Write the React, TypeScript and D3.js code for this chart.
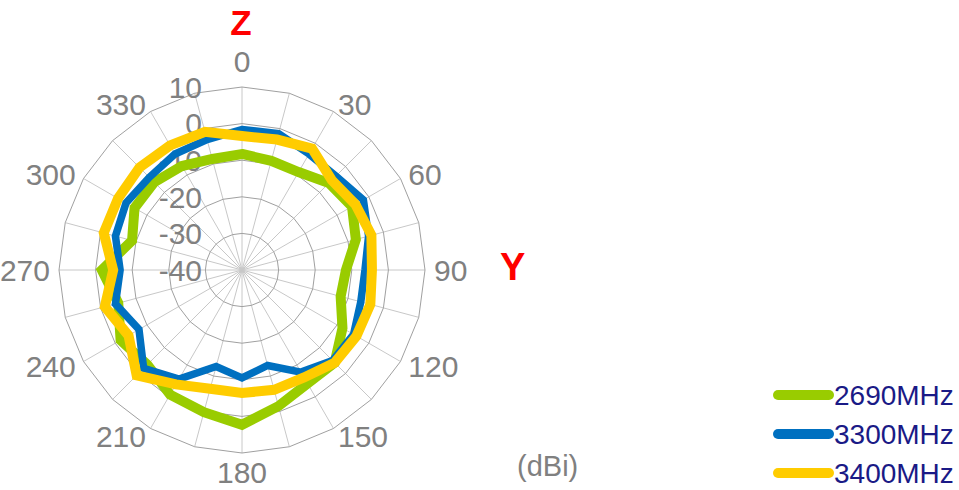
import React, {useEffect, useRef} from "react";
import * as d3 from "d3";

// angle categories (degrees, clockwise from top)
const angles = [0, 15, 30, 45, 60, 75, 90, 105, 120, 135, 150, 165, 180, 195, 210, 225, 240, 255, 270, 285, 300, 315, 330, 345];
const angleLabels = [0, 30, 60, 90, 120, 150, 180, 210, 240, 270, 300, 330];
const radialTicks = [-40, -30, -20, -10, 0, 10];

// gain in dBi
const gain2690 = [-8.3, -9.1, -9.1, -6.4, -5.3, -7.8, -11.6, -12.1, -8.3, -4.2, -4.2, -1.5, 2.3, 0.2, -0.7, -3.4, -1.7, -5.0, -1.7, -8.9, -6.1, -6.1, -7.2, -8.6];
const gain3300 = [-1.6, -1.4, -3.4, -3.7, -1.7, -4.2, -6.4, -6.4, -4.8, -5.0, -7.8, -13.0, -10.5, -12.7, -5.6, -2.0, -7.5, -4.2, -6.7, -4.2, -3.4, -4.2, -3.4, -3.1];
const gain3400 = [-3.4, -3.1, -1.7, -5.3, -4.2, -3.4, -4.5, -3.7, -3.9, -4.2, -6.1, -6.1, -6.4, -6.4, -3.9, 0.7, -4.2, -1.2, -4.8, -0.9, -0.9, -0.4, -0.7, -0.9];

const seriesNames = ["2690MHz", "3300MHz", "3400MHz"];
const seriesColors = ["#99cc00", "#0070c0", "#ffcc00"];
const seriesWidths = [10, 7.5, 10];

const FONT = "'Liberation Sans', Arial, sans-serif";

const App: React.FC = () => {
    const svgRef = useRef<SVGSVGElement | null>(null);

    useEffect(() => {
        if (!svgRef.current) return;
        const svg = d3.select(svgRef.current);
        svg.selectAll("*").remove();

        const cx = 242;
        const cy = 270;
        const R = 183;
        const fs = 30;

        const r = d3.scaleLinear().domain([-40, 10]).range([0, R]);
        const a = d3.scaleLinear().domain([0, 360]).range([0, 2 * Math.PI]);

        const g = svg.append("g").attr("transform", `translate(${cx},${cy})`);

        // spokes
        g.selectAll(".spoke")
            .data(angles)
            .join("line")
            .attr("x1", 0)
            .attr("y1", 0)
            .attr("x2", (d) => R * Math.sin(a(d)))
            .attr("y2", (d) => -R * Math.cos(a(d)))
            .attr("stroke", "#c8c8c8")
            .attr("stroke-width", 1);

        // rings
        const ring = d3.lineRadial<number>()
            .angle((d) => a(d))
            .curve(d3.curveLinearClosed);
        g.selectAll(".ring")
            .data(radialTicks.slice(1))
            .join("path")
            .attr("d", (t) => ring.radius(r(t))(angles))
            .attr("fill", "none")
            .attr("stroke", "#a0a0a0")
            .attr("stroke-width", 1);

        // radial tick labels
        g.selectAll(".rtick")
            .data(radialTicks)
            .join("text")
            .attr("x", -40)
            .attr("y", (t) => -r(t) + fs * 0.36)
            .attr("text-anchor", "end")
            .attr("font-family", FONT)
            .attr("font-size", fs)
            .attr("fill", "#808080")
            .text((t) => String(t));

        // angle labels
        const lr = R + 9;
        g.selectAll(".alabel")
            .data(angleLabels)
            .join("text")
            .attr("x", (d) => lr * Math.sin(a(d)))
            .attr("y", (d) => {
                const y = -lr * Math.cos(a(d));
                if (d === 0) return y - 6;
                if (d === 180) return y + 21;
                return y + fs * 0.36;
            })
            .attr("text-anchor", (d) => (d === 0 || d === 180 ? "middle" : d < 180 ? "start" : "end"))
            .attr("font-family", FONT)
            .attr("font-size", fs)
            .attr("fill", "#808080")
            .text((d) => String(d));

        // series
        const line = d3.lineRadial<number>()
            .angle((_, i) => a(angles[i]))
            .radius((d) => r(d))
            .curve(d3.curveLinearClosed);
        [gain2690, gain3300, gain3400].forEach((vals, i) => {
            g.append("path")
                .attr("d", line(vals))
                .attr("fill", "none")
                .attr("stroke", seriesColors[i])
                .attr("stroke-width", seriesWidths[i])
                .attr("stroke-linejoin", "miter");
        });

        // axis captions
        svg.append("text")
            .attr("x", 241)
            .attr("y", 35)
            .attr("text-anchor", "middle")
            .attr("font-family", FONT)
            .attr("font-weight", "bold")
            .attr("font-size", 35)
            .attr("fill", "#ff0000")
            .text("Z");
        svg.append("text")
            .attr("x", 500)
            .attr("y", 280)
            .attr("font-family", FONT)
            .attr("font-weight", "bold")
            .attr("font-size", 38)
            .attr("fill", "#ff0000")
            .text("Y");
        svg.append("text")
            .attr("x", 517)
            .attr("y", 476)
            .attr("font-family", FONT)
            .attr("font-size", 29)
            .attr("fill", "#808080")
            .text("(dBi)");

        // legend
        const legendY = d3.scalePoint<string>().domain(seriesNames).range([395, 473]);
        const lg = svg.append("g");
        lg.selectAll("line")
            .data(seriesNames)
            .join("line")
            .attr("x1", 778)
            .attr("x2", 829)
            .attr("y1", (d) => legendY(d) || 0)
            .attr("y2", (d) => legendY(d) || 0)
            .attr("stroke", (_, i) => seriesColors[i])
            .attr("stroke-width", 10)
            .attr("stroke-linecap", "round");
        lg.selectAll("text")
            .data(seriesNames)
            .join("text")
            .attr("x", 834)
            .attr("y", (d) => (legendY(d) || 0) + 28 * 0.36)
            .attr("font-family", FONT)
            .attr("font-size", 28)
            .attr("fill", "#1a1a86")
            .text((d) => d);
    }, []);

    return (
        <svg
            ref={svgRef}
            width={959}
            height={490}
            style={{position: "absolute", left: 0, top: 0, background: "#fff"}}
        ></svg>
    );
};

export default App;
